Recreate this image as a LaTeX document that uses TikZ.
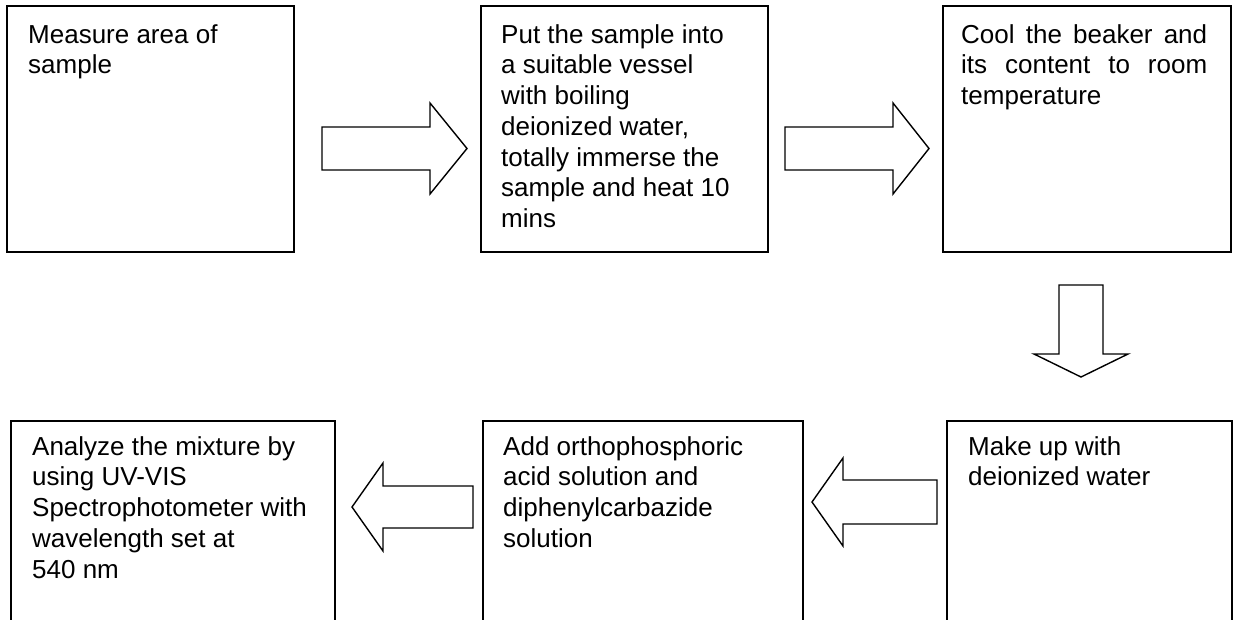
\documentclass[tikz,border=0pt]{standalone}
\usepackage{fontspec}
\setmainfont{Liberation Sans}
\begin{document}
\begin{tikzpicture}[x=1pt,y=-1pt,
  box/.style={draw, line width=1.4pt, rectangle, anchor=north west, inner sep=0pt, outer sep=0pt},
  txt/.style={anchor=north west, inner sep=0pt, align=left, font=\fontsize{26}{30.75}\selectfont},
  blockarrow/.style={draw, line width=1.4pt, line join=miter, fill=white}]
\useasboundingbox (0,0) rectangle (1234,619);
\clip (0,0) rectangle (1234,619);
% boxes
\node[box, minimum width=287pt, minimum height=246pt] (b1) at (7,6) {};
\node[box, minimum width=287pt, minimum height=246pt] (b2) at (481,6) {};
\node[box, minimum width=288pt, minimum height=246pt] (b3) at (943,6) {};
\node[box, minimum width=324pt, minimum height=240pt] (b4) at (11,421) {};
\node[box, minimum width=320pt, minimum height=240pt] (b5) at (483,421) {};
\node[box, minimum width=285pt, minimum height=240pt] (b6) at (947,421) {};
% texts
\node[txt] (t1) at (28,23) {\rule{0pt}{20pt}Measure area of\\sample};
\node[txt] (t2) at (501,23) {\rule{0pt}{20pt}Put the sample into\\a suitable vessel\\with boiling\\deionized water,\\totally immerse the\\sample and heat 10\\mins};
\node[txt] (t3) at (961,23) {\rule{0pt}{20pt}\makebox[246pt][s]{Cool the beaker and}\\\makebox[246pt][s]{its content to room}\\temperature};
\node[txt] (t4) at (32,435) {\rule{0pt}{20pt}Analyze the mixture by\\using UV-VIS\\Spectrophotometer with\\wavelength set at\\540 nm};
\node[txt] (t5) at (503,435) {\rule{0pt}{20pt}Add orthophosphoric\\acid solution and\\diphenylcarbazide\\solution};
\node[txt] (t6) at (968,435) {\rule{0pt}{20pt}Make up with\\deionized water};
% block arrows
\draw[blockarrow] (322,127) -- (430,127) -- (430,103) -- (467,148.5) -- (430,194) -- (430,170) -- (322,170) -- cycle;
\draw[blockarrow] (785,127) -- (893,127) -- (893,103) -- (929,148.5) -- (893,194) -- (893,170) -- (785,170) -- cycle;
\draw[blockarrow] (1059,285) -- (1103,285) -- (1103,354) -- (1128,354) -- (1081,377) -- (1034,354) -- (1059,354) -- cycle;
\draw[blockarrow] (937,480) -- (843,480) -- (843,458) -- (812,502) -- (843,546) -- (843,524) -- (937,524) -- cycle;
\draw[blockarrow] (473,486) -- (383,486) -- (383,463) -- (352,507) -- (383,551) -- (383,528) -- (473,528) -- cycle;
\end{tikzpicture}
\end{document}
